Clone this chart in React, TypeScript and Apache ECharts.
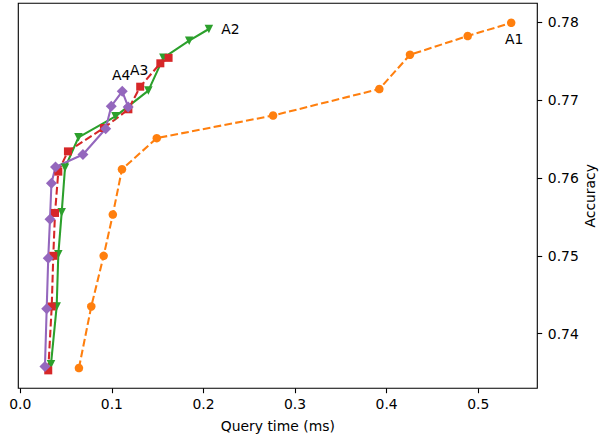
import React, { useEffect, useRef } from "react";
import * as echarts from "echarts";

// ---- data ----
const a1Time = [0.064, 0.0775, 0.091, 0.101, 0.111, 0.149, 0.276, 0.392, 0.4255, 0.4885, 0.536];
const a1Acc = [0.7356, 0.7435, 0.75, 0.7553, 0.7611, 0.7651, 0.768, 0.7714, 0.7758, 0.7782, 0.7799];

const a2Time = [0.0335, 0.0397, 0.0415, 0.0452, 0.0488, 0.0635, 0.1039, 0.1398, 0.1562, 0.1844, 0.2059];
const a2Acc = [0.7361, 0.7435, 0.7502, 0.7556, 0.7613, 0.7652, 0.7679, 0.7712, 0.7754, 0.7776, 0.7791];

const a3Time = [0.0305, 0.0343, 0.036, 0.0379, 0.0415, 0.052, 0.0913, 0.118, 0.1309, 0.1529, 0.1619];
const a3Acc = [0.7353, 0.7435, 0.75, 0.7555, 0.7608, 0.7634, 0.7664, 0.7688, 0.7717, 0.7747, 0.7754];

const a4Time = [0.0269, 0.0288, 0.0305, 0.0324, 0.034, 0.0384, 0.0684, 0.0932, 0.0993, 0.1113, 0.1178];
const a4Acc = [0.7358, 0.7432, 0.7497, 0.7547, 0.7593, 0.7614, 0.763, 0.7663, 0.7692, 0.7711, 0.7691];

const seriesNames = ["A1", "A2", "A3", "A4"];
const xTicks = [0, 0.1, 0.2, 0.3, 0.4, 0.5];
const yTicks = [0.74, 0.75, 0.76, 0.77, 0.78];

const FONT = "DejaVu Sans";
const FS = 13.9;

function buildData(xs: number[], ys: number[], labelIdx: number, label: any) {
  return xs.map((x, i) =>
    i === labelIdx ? { value: [x, ys[i]], label: { show: true, ...label } } : [x, ys[i]]
  );
}

export default function App() {
  const ref = useRef<HTMLDivElement>(null);
  useEffect(() => {
    if (!ref.current) return;
    const chart = echarts.init(ref.current, null, { renderer: "svg" });
    const dash = [7.7, 3.3];
    const baseLabel = { color: "#000", fontSize: FS, fontFamily: FONT };
    const option: any = {
      animation: false,
      backgroundColor: "#fff",
      textStyle: { fontFamily: FONT },
      grid: {
        left: 18.3,
        right: 78.7,
        top: 3.3,
        bottom: 50.7,
        show: true,
        borderColor: "#000",
        borderWidth: 1.1,
        backgroundColor: "transparent",
      },
      xAxis: {
        type: "value",
        min: -0.0022,
        max: 0.5645,
        name: "Query time (ms)",
        nameLocation: "middle",
        nameGap: 31,
        nameMoveOverlap: false,
        nameTextStyle: { color: "#000", fontSize: FS, fontFamily: FONT },
        axisLine: { show: false, onZero: false },
        splitLine: { show: false },
        axisTick: { show: true, length: 4.9, lineStyle: { color: "#000", width: 1.1 }, customValues: xTicks },
        axisLabel: {
          color: "#000",
          fontSize: FS,
          fontFamily: FONT,
          margin: 9,
          customValues: xTicks,
          formatter: (v: number) => v.toFixed(1),
        },
      },
      yAxis: {
        type: "value",
        position: "right",
        min: 0.733,
        max: 0.7824,
        name: "Accuracy",
        nameLocation: "middle",
        nameRotate: 90,
        nameGap: 46,
        nameMoveOverlap: false,
        nameTextStyle: { color: "#000", fontSize: FS, fontFamily: FONT },
        axisLine: { show: false, onZero: false },
        splitLine: { show: false },
        axisTick: { show: true, length: 4.9, lineStyle: { color: "#000", width: 1.1 }, customValues: yTicks },
        axisLabel: {
          color: "#000",
          fontSize: FS,
          fontFamily: FONT,
          margin: 10.5,
          customValues: yTicks,
          formatter: (v: number) => v.toFixed(2),
        },
      },
      series: [
        {
          name: seriesNames[0],
          type: "line",
          showAllSymbol: true,
          symbol: "circle",
          symbolSize: 8.5,
          itemStyle: { color: "#ff7f0e" },
          lineStyle: { color: "#ff7f0e", width: 2.08, type: dash },
          data: buildData(a1Time, a1Acc, 10, {
            ...baseLabel,
            formatter: seriesNames[0],
            position: "bottom",
            distance: 5,
            offset: [3, 0],
          }),
        },
        {
          name: seriesNames[1],
          type: "line",
          showAllSymbol: true,
          symbol: "triangle",
          symbolRotate: 180,
          symbolSize: 8.5,
          itemStyle: { color: "#2ca02c" },
          lineStyle: { color: "#2ca02c", width: 2.08, type: "solid" },
          data: buildData(a2Time, a2Acc, 10, {
            ...baseLabel,
            formatter: seriesNames[1],
            position: "right",
            distance: 8,
          }),
        },
        {
          name: seriesNames[2],
          type: "line",
          showAllSymbol: true,
          symbol: "rect",
          symbolSize: 8,
          itemStyle: { color: "#d62728" },
          lineStyle: { color: "#d62728", width: 2.08, type: dash },
          data: buildData(a3Time, a3Acc, 8, {
            ...baseLabel,
            formatter: seriesNames[2],
            position: "top",
            distance: 6,
            offset: [-1, 0],
          }),
        },
        {
          name: seriesNames[3],
          type: "line",
          showAllSymbol: true,
          symbol: "diamond",
          symbolSize: 11,
          itemStyle: { color: "#9467bd" },
          lineStyle: { color: "#9467bd", width: 2.08, type: "solid" },
          data: buildData(a4Time, a4Acc, 9, {
            ...baseLabel,
            formatter: seriesNames[3],
            position: "top",
            distance: 3.5,
            offset: [-1, 0],
          }),
        },
      ],
    };
    chart.setOption(option);
    return () => chart.dispose();
  }, []);
  return (
    <div
      ref={ref}
      style={{ position: "absolute", left: 0, top: 0, width: 616, height: 439 }}
    />
  );
}
